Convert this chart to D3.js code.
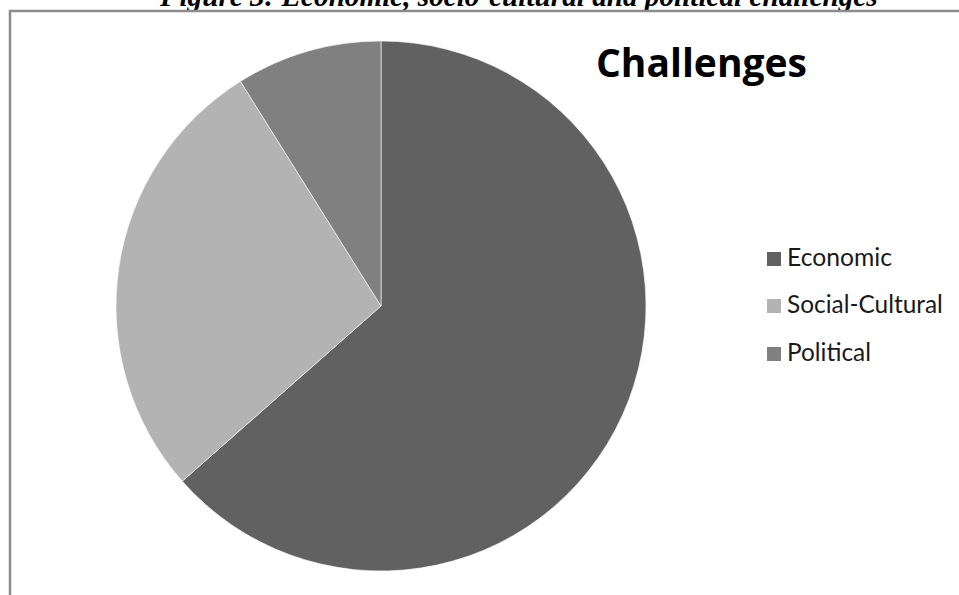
<!DOCTYPE html>
<html>
<head>
<meta charset="utf-8">
<script src="https://cdn.jsdelivr.net/npm/d3@7"></script>
<style>
  html, body { margin: 0; padding: 0; background: #fff; overflow: hidden; }
  svg { display: block; }
</style>
</head>
<body>
<div id="plot"></div>
<script>
// Chart data (shares, in %)
const categories = ["Economic", "Social-Cultural", "Political"];
const shares = [63.5, 27.6, 8.9];
const sliceColors = ["#616161", "#b3b3b3", "#808080"];

const captionText = "Figure 3: Economic, socio-cultural and political challenges";
const titleText = "Challenges";

const width = 959;
const height = 595;

const svg = d3.select("#plot")
    .append("svg")
    .attr("width", width)
    .attr("height", height);

// Helper: shrink/grow font so the text spans a given width
function fitText(sel, targetWidth) {
    const size = parseFloat(sel.style("font-size"));
    const w = sel.node().getComputedTextLength();
    sel.style("font-size", (size * targetWidth / w) + "px");
}

// Caption, cut off by the top of the page
const caption = svg.append("text")
    .attr("x", 160)
    .attr("y", 6)
    .attr("font-family", "'Liberation Serif', 'Times New Roman', serif")
    .attr("font-weight", "bold")
    .attr("font-style", "italic")
    .style("font-size", "26px")
    .attr("fill", "#000")
    .text(captionText);
fitText(caption, 718);

// Chart area frame (only left and top edges are in view)
svg.append("rect")
    .attr("x", 10)
    .attr("y", 11)
    .attr("width", 1000)
    .attr("height", 700)
    .attr("fill", "none")
    .attr("stroke", "#8c8c8c")
    .attr("stroke-width", 2.5);

// Pie
const cx = 381, cy = 306, radius = 265;

const pie = d3.pie().sort(null).value(d => d.value);
const arc = d3.arc().innerRadius(0).outerRadius(radius);

const slices = pie(categories.map((c, i) => ({ name: c, value: shares[i] })));

svg.append("g")
    .attr("transform", `translate(${cx},${cy})`)
    .selectAll("path")
    .data(slices)
    .enter()
    .append("path")
    .attr("d", arc)
    .attr("fill", (d, i) => sliceColors[i])
    .attr("stroke", "rgba(255,255,255,0.6)")
    .attr("stroke-width", 1);

// Title
const title = svg.append("text")
    .attr("x", 596)
    .attr("y", 77)
    .attr("font-family", "'Open Sans', 'Noto Sans', sans-serif")
    .attr("font-weight", "bold")
    .style("font-size", "40px")
    .attr("fill", "#000")
    .text(titleText);
fitText(title, 211);

// Legend
const legendY = [266, 313, 361];
const legendW = [105, 156, 84];

const legend = svg.append("g");
categories.forEach((c, i) => {
    legend.append("rect")
        .attr("x", 767)
        .attr("y", legendY[i] - 14)
        .attr("width", 14)
        .attr("height", 14)
        .attr("fill", sliceColors[i]);
    const t = legend.append("text")
        .attr("x", 787)
        .attr("y", legendY[i])
        .attr("font-family", "Lato, 'Open Sans', sans-serif")
        .style("font-size", "22px")
        .attr("fill", "#1a1a1a")
        .text(c);
    fitText(t, legendW[i]);
});
</script>
</body>
</html>
